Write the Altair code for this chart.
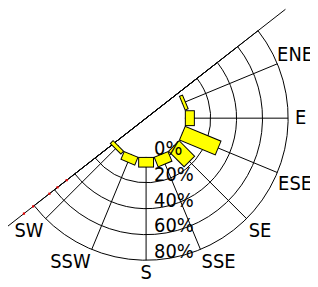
import altair as alt
import pandas as pd

# ---------------- data ----------------
directions = ["ENE", "E", "ESE", "SE", "SSE", "S", "SSW", "SW"]
bearings = [67.5, 90.0, 112.5, 135.0, 157.5, 180.0, 202.5, 225.0]
frequency = [2.5, 7.0, 30.0, 17.0, 8.0, 7.5, 6.5, 3.0]          # percent
ring_values = [20, 40, 60, 80]
radial_ticks = [0, 20, 40, 60, 80]
radial_labels = ["0%", "20%", "40%", "60%", "80%"]
sector = [52.0, 232.0]                                          # visible bearings
minor_ticks = [48, 57, 65, 81, 90, 107]                         # red marks (percent units)

# ---------------- style / layout ----------------
HOLE = 39.0        # px radius of the empty centre (0 %)
PX = 1.3           # px per percent
BOUND_R = 178.0    # px length of the boundary line on each side
LABEL_R = 146.0    # px radius of direction label anchors
BAR_W = 16         # px bar thickness
W, H = 304, 271
CX, CY = 139, 110  # centre of the rose inside the view
FONT = "DejaVu Sans Condensed, Liberation Sans Narrow, Liberation Sans, sans-serif"
FS = 20

xs = alt.Scale(domain=[-CX, W - CX], range=[0, W], nice=False, zero=False)
ys = alt.Scale(domain=[CY - H, CY], range=[H, 0], nice=False, zero=False)


def X(f):
    return alt.X(f"{f}:Q", scale=xs, axis=None)


def Y(f):
    return alt.Y(f"{f}:Q", scale=ys, axis=None)


R_OUT = HOLE + PX * max(ring_values)

# rings (sector outlines)
rings_df = pd.DataFrame({"pct": ring_values})
rings = (
    alt.Chart(rings_df)
    .transform_calculate(
        r=f"{HOLE} + {PX} * datum.pct",
        t0=f"{sector[0]} * PI / 180",
        t1=f"{sector[1]} * PI / 180",
        cx="0",
        cy="0",
    )
    .mark_arc(filled=False, stroke="black", strokeWidth=1)
    .encode(
        x=X("cx"),
        y=Y("cy"),
        theta=alt.Theta("t0:Q", scale=None, stack=False),
        theta2="t1:Q",
        radius=alt.Radius("r:Q", scale=None),
        radius2=alt.value(0),
    )
)

# spokes
dir_df = pd.DataFrame({"dir": directions, "bearing": bearings, "freq": frequency})
spokes = (
    alt.Chart(dir_df)
    .transform_calculate(
        rad="datum.bearing * PI / 180",
        x0=f"{HOLE} * sin(datum.rad)",
        y0=f"{HOLE} * cos(datum.rad)",
        x1=f"{R_OUT} * sin(datum.rad)",
        y1=f"{R_OUT} * cos(datum.rad)",
    )
    .mark_rule(color="black", strokeWidth=1)
    .encode(x=X("x0"), y=Y("y0"), x2="x1:Q", y2="y1:Q")
)

# boundary line
bound_df = pd.DataFrame({"a0": [sector[0]], "a1": [sector[1]]})
boundary = (
    alt.Chart(bound_df)
    .transform_calculate(
        x0=f"{BOUND_R} * sin(datum.a0 * PI / 180)",
        y0=f"{BOUND_R} * cos(datum.a0 * PI / 180)",
        x1=f"{BOUND_R} * sin(datum.a1 * PI / 180)",
        y1=f"{BOUND_R} * cos(datum.a1 * PI / 180)",
    )
    .mark_rule(color="black", strokeWidth=1)
    .encode(x=X("x0"), y=Y("y0"), x2="x1:Q", y2="y1:Q")
)

# red minor marks along the lower boundary
minor_df = pd.DataFrame({"pct": minor_ticks})
minor = (
    alt.Chart(minor_df)
    .transform_calculate(
        r=f"{HOLE} + {PX} * datum.pct",
        x="datum.r * sin(%f * PI / 180)" % sector[1],
        y="datum.r * cos(%f * PI / 180)" % sector[1],
    )
    .mark_square(color="#e00000", size=5, opacity=1)
    .encode(x=X("x"), y=Y("y"))
)


# bars as rotated rectangles: black outline rule + yellow inner rule
def bar_layer(inset, color, width):
    return (
        alt.Chart(dir_df)
        .transform_calculate(
            rad="datum.bearing * PI / 180",
            r0=f"{HOLE} + {inset}",
            r1=f"{HOLE} + {PX} * datum.freq + 1 - {inset}",
            x0="datum.r0 * sin(datum.rad)",
            y0="datum.r0 * cos(datum.rad)",
            x1="datum.r1 * sin(datum.rad)",
            y1="datum.r1 * cos(datum.rad)",
        )
        .mark_rule(color=color, strokeWidth=width, strokeCap="butt")
        .encode(x=X("x0"), y=Y("y0"), x2="x1:Q", y2="y1:Q")
    )


bars_outline = bar_layer(0.0, "black", BAR_W)
bars_fill = bar_layer(1.0, "#ffff00", BAR_W - 2)

# radial percent labels along the S spoke
rl_df = pd.DataFrame({"pct": radial_ticks, "label": radial_labels})
radial_text = (
    alt.Chart(rl_df)
    .transform_calculate(x="0", y=f"-({HOLE} + {PX} * datum.pct)")
    .mark_text(align="left", baseline="alphabetic", dx=8, dy=-2,
               font=FONT, fontSize=FS, color="black")
    .encode(x=X("x"), y=Y("y"), text="label:N")
)


# direction labels
def dir_text(cond, align, baseline, dx=0, dy=0):
    return (
        alt.Chart(dir_df)
        .transform_filter(cond)
        .transform_calculate(
            x=f"{LABEL_R} * sin(datum.bearing * PI / 180)",
            y=f"{LABEL_R} * cos(datum.bearing * PI / 180)",
        )
        .mark_text(align=align, baseline=baseline, dx=dx, dy=dy,
                   font=FONT, fontSize=FS, color="black")
        .encode(x=X("x"), y=Y("y"), text="dir:N")
    )


labels = [
    dir_text("datum.bearing < 90", "left", "alphabetic", dx=-3, dy=-2),
    dir_text("datum.bearing == 90", "left", "middle", dx=4),
    dir_text("datum.bearing > 90 && datum.bearing < 120", "left", "top", dx=-2),
    dir_text("datum.bearing >= 120 && datum.bearing < 180", "left", "top"),
    dir_text("datum.bearing == 180", "center", "top"),
    dir_text("datum.bearing > 180", "right", "top"),
]

chart = (
    alt.layer(rings, spokes, boundary, minor, bars_outline, bars_fill, radial_text, *labels)
    .properties(width=W, height=H, padding=0, autosize="none")
    .configure_view(stroke=None)
)

chart.save("out.html", embed_options={"renderer": "svg", "actions": False})
